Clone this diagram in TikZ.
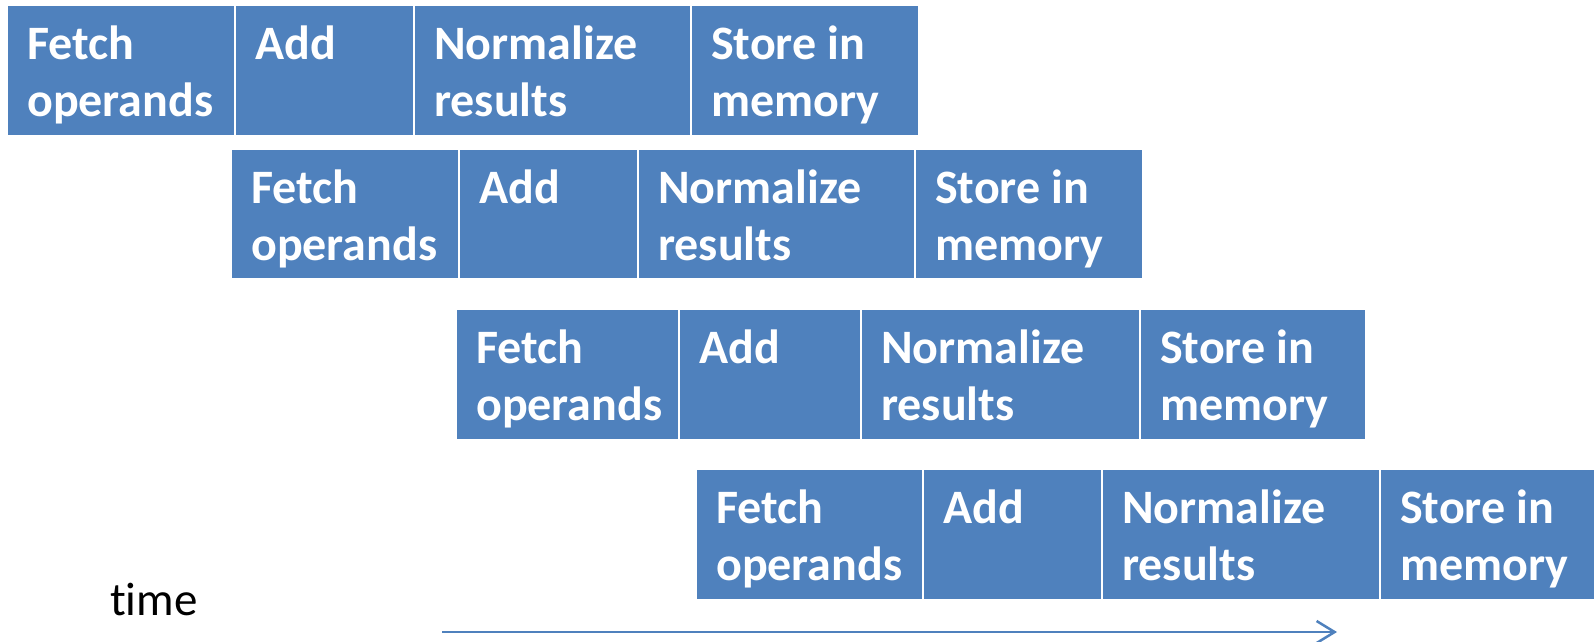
\documentclass[tikz,border=0pt]{standalone}
\usepackage{fontspec}
\setmainfont{Carlito}[Ligatures={TeX,NoCommon}]
\usetikzlibrary{arrows.meta}
\definecolor{stageblue}{HTML}{4F81BD}
\tikzset{
  stagebox/.style={fill=stageblue, draw=none, inner sep=0pt, outer sep=0pt, anchor=north west},
  stagelabel/.style={text=white, font=\fontsize{48}{57}\selectfont\bfseries, align=left, inner sep=0pt, anchor=north west},
  timelabel/.style={font=\fontsize{47}{56}\selectfont, inner sep=0pt, anchor=base west},
  timearrow/.style={draw=stageblue, line width=2.5pt, -{Straight Barb[length=18pt,width=22pt,line width=2.5pt]}}
}
\newcommand\mystage[6]{%
  \node[stagebox, minimum width={(#3-#2)*1pt}, minimum height={(#5-#4)*1pt}] (#1) at (#2,#4) {};
  \node[stagelabel] (#1t) at (#2+19,#4+13.6) {#6};
}
\begin{document}
\begin{tikzpicture}[x=1pt,y=-1pt]
\useasboundingbox (0,0) rectangle (1594,641);
% row 1
\mystage{aF}{8}{234}{6}{135}{\strut Fetch\\\strut operands}
\mystage{aA}{236}{413}{6}{135}{\strut Add}
\mystage{aN}{415}{690}{6}{135}{\strut Normalize\\\strut results}
\mystage{aS}{692}{918}{6}{135}{\strut Store in\\\strut memory}
% row 2
\mystage{bF}{232}{458}{150}{278}{\strut Fetch\\\strut operands}
\mystage{bA}{460}{637}{150}{278}{\strut Add}
\mystage{bN}{639}{914}{150}{278}{\strut Normalize\\\strut results}
\mystage{bS}{916}{1142}{150}{278}{\strut Store in\\\strut memory}
% row 3
\mystage{cF}{457}{678}{310}{439}{\strut Fetch\\\strut operands}
\mystage{cA}{680}{860}{310}{439}{\strut Add}
\mystage{cN}{862}{1139}{310}{439}{\strut Normalize\\\strut results}
\mystage{cS}{1141}{1365}{310}{439}{\strut Store in\\\strut memory}
% row 4
\mystage{dF}{697}{922}{470}{599}{\strut Fetch\\\strut operands}
\mystage{dA}{924}{1101}{470}{599}{\strut Add}
\mystage{dN}{1103}{1379}{470}{599}{\strut Normalize\\\strut results}
\mystage{dS}{1381}{1594}{470}{599}{\strut Store in\\\strut memory}
% time
\node[timelabel] (time) at (110,615) {time};
\coordinate (tstart) at (442,632);
\coordinate (tend) at (1337,632);
\draw[timearrow] (tstart) -- (tend);
\end{tikzpicture}
\end{document}
